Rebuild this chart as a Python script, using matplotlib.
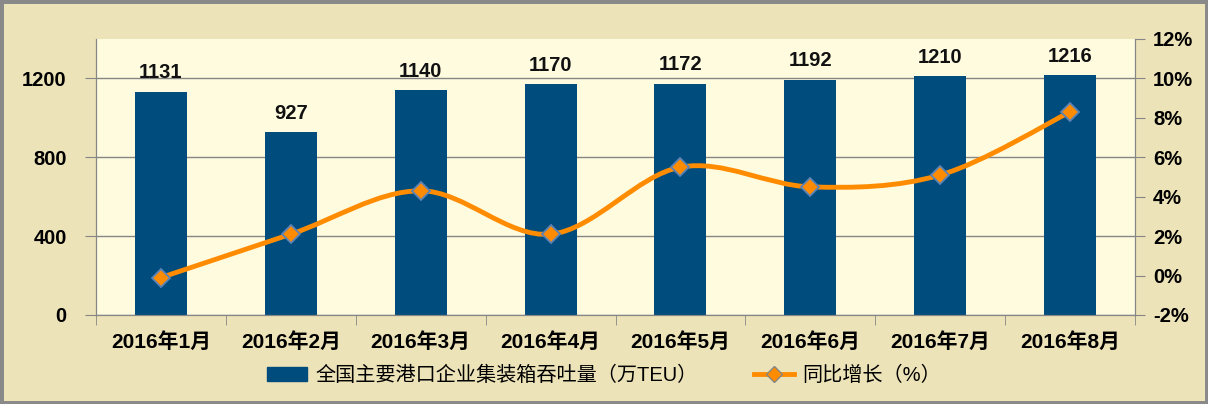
import matplotlib
matplotlib.use('Agg')
import matplotlib.pyplot as plt
from matplotlib.path import Path
from matplotlib.patches import PathPatch, Rectangle
from matplotlib.lines import Line2D
from matplotlib.ticker import FuncFormatter

plt.rcParams['font.family'] = ['Liberation Sans', 'Noto Sans CJK SC', 'DejaVu Sans']

months = ['2016年1月', '2016年2月', '2016年3月', '2016年4月',
          '2016年5月', '2016年6月', '2016年7月', '2016年8月']
throughput = [1131, 927, 1140, 1170, 1172, 1192, 1210, 1216]
growth = [-0.1, 2.1, 4.3, 2.1, 5.5, 4.5, 5.1, 8.3]

bar_label = '全国主要港口企业集装箱吞吐量（万TEU）'
line_label = '同比增长（%）'

bar_color = '#004C7C'
line_color = '#FF8C00'
edge_color = '#5B83B8'
grid_color = '#868686'
outer_bg = '#EDE3B8'
plot_bg = '#FEFBDF'
fs = 14.5

fig = plt.figure(figsize=(12.08, 4.04), dpi=100, facecolor=outer_bg)
ax = fig.add_axes([0.0795, 0.2203, 0.8601, 0.6832])
ax.set_facecolor(plot_bg)
ax2 = ax.twinx()

x = list(range(len(months)))
ax.bar(x, throughput, width=0.4, color=bar_color, zorder=2)
for xi, v in zip(x, throughput):
    ax.annotate(str(v), (xi, v), xytext=(0, 7), textcoords='offset points',
                ha='center', va='bottom', fontsize=fs, fontweight='bold',
                color='#111111')

ax.set_xlim(-0.5, len(months) - 0.5)
ax.set_ylim(0, 1400)
ax.set_yticks([0, 400, 800, 1200])
ax.set_xticks(x)
ax.set_xticklabels(months, fontsize=fs + 0.5, fontweight='bold',
                   family=['Liberation Sans', 'Noto Sans CJK SC'])
ax.set_xticks([i - 0.5 for i in range(len(months) + 1)], minor=True)
ax.tick_params(axis='x', which='major', length=0, pad=12)
ax.tick_params(axis='x', which='minor', length=7, color=grid_color)
ax.tick_params(axis='y', length=8, color=grid_color, labelsize=fs, pad=13)
for lab in ax.get_yticklabels():
    lab.set_fontweight('bold')
ax.grid(axis='y', color=grid_color, linewidth=1, zorder=1)
ax.set_axisbelow(True)

# smoothed line (Excel-style Bezier through the data points)
pts = list(zip(x, growth))
verts = [pts[0]]
codes = [Path.MOVETO]
n = len(pts)
for i in range(n - 1):
    p0 = pts[max(i - 1, 0)]
    p1 = pts[i]
    p2 = pts[i + 1]
    p3 = pts[min(i + 2, n - 1)]
    c1 = (p1[0] + (p2[0] - p0[0]) / 6, p1[1] + (p2[1] - p0[1]) / 6)
    c2 = (p2[0] - (p3[0] - p1[0]) / 6, p2[1] - (p3[1] - p1[1]) / 6)
    verts += [c1, c2, p2]
    codes += [Path.CURVE4] * 3
ax2.add_patch(PathPatch(Path(verts, codes), facecolor='none',
                        edgecolor=line_color, linewidth=3.5, zorder=3))
ax2.plot(x, growth, linestyle='none', marker='D', markersize=9,
         markerfacecolor=line_color, markeredgecolor=edge_color,
         markeredgewidth=1.3, zorder=4)
ax2.set_ylim(-2, 12)
ax2.set_yticks(range(-2, 13, 2))
ax2.yaxis.set_major_formatter(FuncFormatter(lambda v, p: f'{int(v)}%'))
ax2.tick_params(axis='y', length=7, color=grid_color, labelsize=fs, pad=6)
for lab in ax2.get_yticklabels():
    lab.set_fontweight('bold')

for a in (ax, ax2):
    a.spines['top'].set_visible(False)
    for s in ('left', 'right', 'bottom'):
        a.spines[s].set_color(grid_color)

handles = [Rectangle((0, 0), 1, 1, color=bar_color),
           Line2D([0], [0], color=line_color, linewidth=3.5, marker='D',
                  markersize=8, markerfacecolor=line_color,
                  markeredgecolor=grid_color)]
fig.legend(handles, [bar_label, line_label], loc='center',
           bbox_to_anchor=(0.5, 0.07), ncol=2, frameon=False,
           handlelength=2.0, columnspacing=2.8, handletextpad=0.4,
           prop={'family': ['Liberation Sans', 'Noto Sans CJK SC'], 'size': fs})

fig.patches.append(Rectangle((0, 0), 1, 1, transform=fig.transFigure,
                             fill=False, edgecolor='#898989', linewidth=5))

fig.savefig('out.png', dpi=100, facecolor=outer_bg)
